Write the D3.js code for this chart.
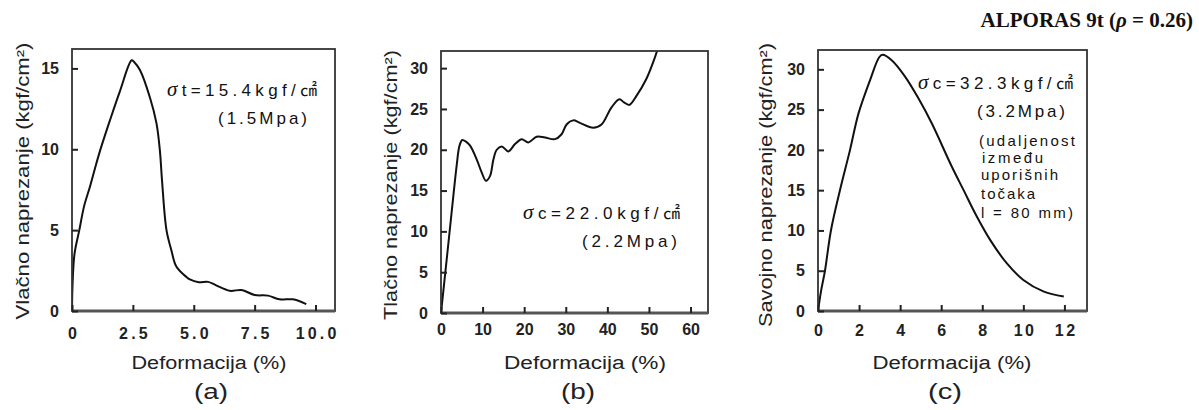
<!DOCTYPE html>
<html><head><meta charset="utf-8">
<script src="https://cdn.jsdelivr.net/npm/d3@7"></script>
<style>body{margin:0;background:#fff;} svg{display:block}</style>
</head><body><svg id="c" width="1199" height="410"></svg>
<script>
// ---------- data ----------
const tensileStrain = [0, 0.02, 0.1, 0.3, 0.5, 0.74, 0.94, 1.15, 1.56, 1.97, 2.45, 2.55, 2.79, 3.2, 3.47, 3.61, 3.7, 3.88, 4.08, 4.29, 4.7, 4.84, 5.2, 5.59, 5.9, 6.48, 6.96, 7.5, 8.05, 8.52, 9.07, 9.62];
const tensileStress = [0, 1.5, 3.5, 5.0, 6.5, 7.7, 8.8, 9.9, 11.8, 13.6, 15.5, 15.4, 14.9, 13.2, 11.6, 9.9, 8.0, 5.0, 3.76, 2.73, 2.1, 1.95, 1.78, 1.8, 1.6, 1.25, 1.3, 0.99, 0.95, 0.72, 0.72, 0.43];

const compStrain = [0, 1.5, 3.0, 3.8, 4.4, 5.1, 6.0, 7.0, 8.6, 9.8, 10.8, 11.8, 12.6, 13.4, 14.6, 16.2, 17.8, 19.4, 21.0, 23.0, 25.0, 27.4, 29.0, 30.2, 31.8, 33.4, 36.6, 38.6, 41.0, 42.9, 44.0, 45.3, 47.0, 49.4, 51.0, 52.0, 52.6];
const compStress = [0, 7.2, 14.5, 18.2, 20.4, 21.2, 21.0, 20.5, 18.8, 17.2, 16.2, 16.8, 18.8, 20.0, 20.4, 19.8, 20.7, 21.3, 20.9, 21.6, 21.5, 21.3, 21.9, 23.1, 23.6, 23.3, 22.7, 23.1, 25.2, 26.2, 25.8, 25.5, 26.6, 28.7, 30.7, 32.2, 33.5];

const bendStrain = [0, 0.15, 0.34, 0.63, 1.07, 1.56, 1.97, 2.54, 2.98, 3.14, 3.6, 4.24, 4.89, 5.54, 6.52, 7.09, 7.74, 8.39, 9.2, 10.0, 11.0, 11.97];
const bendStress = [0, 2.5, 5, 10, 15, 20, 24.5, 28.7, 31.5, 31.8, 31.1, 29.1, 26.4, 23.3, 17.9, 15.0, 11.7, 8.8, 5.9, 3.85, 2.4, 1.8];

const aXTicks = [0, 2.5, 5, 7.5, 10];
const aXTickLabels = ["0", "2.5", "5.0", "7.5", "10.0"];
const aYTicks = [0, 5, 10, 15];
const bXTicks = [0, 10, 20, 30, 40, 50, 60];
const bYTicks = [0, 5, 10, 15, 20, 25, 30];
const cXTicks = [0, 2, 4, 6, 8, 10, 12];
const cYTicks = [0, 5, 10, 15, 20, 25, 30];

const aDomainX = [0, 10.8], aDomainY = [0, 16.2];
const bDomainX = [0, 64.2], bDomainY = [0, 32.1];
const cDomainX = [0, 13.1], cDomainY = [0, 32.4];

const yTitles = ["Vlačno naprezanje (kgf/cm²)", "Tlačno naprezanje (kgf/cm²)", "Savojno naprezanje (kgf/cm²)"];
const xTitle = "Deformacija (%)";
const panelLabels = ["(a)", "(b)", "(c)"];
const title = "ALPORAS 9t";

// ---------- layout ----------
const svg = d3.select("#c");
const FONT = "'Liberation Sans', Arial, Helvetica, sans-serif";

const panels = [
  {x: tensileStrain, y: tensileStress, dx: aDomainX, dy: aDomainY, xt: aXTicks, xtl: aXTickLabels, yt: aYTicks,
   box: {l: 72, r: 335, t: 49, b: 311}, xPad: 17, xLS: 3.2, yTitleX: 29, yTitleY: 181, yTitleLen: 277,
   xTitleX: 209, xTitleLen: 155, labX: 211},
  {x: compStrain, y: compStress, dx: bDomainX, dy: bDomainY, xt: bXTicks, xtl: bXTicks.map(String), yt: bYTicks,
   box: {l: 441, r: 708, t: 51, b: 313}, xPad: 11, xLS: 0, yTitleX: 397, yTitleY: 185, yTitleLen: 270,
   xTitleX: 585, xTitleLen: 162, labX: 578},
  {x: bendStrain, y: bendStress, dx: cDomainX, dy: cDomainY, xt: cXTicks, xtl: cXTicks.map(String), yt: cYTicks,
   box: {l: 818, r: 1087, t: 50, b: 311}, xPad: 14, xLS: 2.5, yTitleX: 772, yTitleY: 185, yTitleLen: 284,
   xTitleX: 952, xTitleLen: 159, labX: 945}
];

panels.forEach((p, i) => {
  const b = p.box;
  const xs = d3.scaleLinear().domain(p.dx).range([b.l, b.r]);
  const ys = d3.scaleLinear().domain(p.dy).range([b.b, b.t]);
  const g = svg.append("g");

  const clipId = "clip" + i;
  svg.append("clipPath").attr("id", clipId).append("rect")
    .attr("x", b.l).attr("y", b.t).attr("width", b.r - b.l).attr("height", b.b - b.t);

  const line = d3.line().x((d, k) => xs(p.x[k])).y((d, k) => ys(p.y[k])).curve(d3.curveCatmullRom.alpha(0.5));
  g.append("path").datum(p.x).attr("d", line).attr("fill", "none").attr("stroke", "#111")
    .attr("stroke-width", 2).attr("stroke-linejoin", "round").attr("clip-path", `url(#${clipId})`);

  g.append("rect").attr("x", b.l).attr("y", b.t).attr("width", b.r - b.l).attr("height", b.b - b.t)
    .attr("fill", "none").attr("stroke", "#333").attr("stroke-width", 1.8);
  g.append("line").attr("x1", b.l).attr("x2", b.r).attr("y1", b.b).attr("y2", b.b)
    .attr("stroke", "#555").attr("stroke-width", 3);

  const xa = d3.axisBottom(xs).tickValues(p.xt).tickSize(-6).tickPadding(p.xPad)
    .tickFormat((d, k) => p.xtl[k]);
  const xg = g.append("g").attr("transform", `translate(0,${b.b})`).call(xa);
  xg.select(".domain").remove();
  xg.selectAll("line").attr("stroke", "#222").attr("stroke-width", 2);
  xg.selectAll("text").attr("font-family", FONT).attr("font-size", 16).attr("font-weight", "bold")
    .attr("fill", "#222").attr("letter-spacing", p.xLS).attr("dx", p.xLS / 2);

  const ya = d3.axisLeft(ys).tickValues(p.yt).tickSize(-6).tickPadding(13);
  const yg = g.append("g").attr("transform", `translate(${b.l},0)`).call(ya);
  yg.select(".domain").remove();
  yg.selectAll("line").attr("stroke", "#222").attr("stroke-width", 2);
  yg.selectAll("text").attr("font-family", FONT).attr("font-size", 16).attr("font-weight", "bold").attr("fill", "#222");

  g.append("text").attr("transform", `translate(${p.yTitleX},${p.yTitleY}) rotate(-90)`)
    .attr("text-anchor", "middle").attr("font-family", FONT).attr("font-size", 18).attr("fill", "#222")
    .attr("textLength", p.yTitleLen).attr("lengthAdjust", "spacingAndGlyphs").text(yTitles[i]);
  g.append("text").attr("x", p.xTitleX).attr("y", 369).attr("text-anchor", "middle")
    .attr("font-family", FONT).attr("font-size", 18).attr("fill", "#222")
    .attr("textLength", p.xTitleLen).attr("lengthAdjust", "spacingAndGlyphs").text(xTitle);
  g.append("text").attr("x", p.labX).attr("y", 399).attr("text-anchor", "middle")
    .attr("font-family", FONT).attr("font-size", 22).attr("fill", "#222")
    .attr("textLength", 34).attr("lengthAdjust", "spacingAndGlyphs").text(panelLabels[i]);
});

// annotations
const annFont = FONT + ", 'Noto Sans CJK JP'";
function sigmaText(x, y, sub, val, len) {
  const t = svg.append("text").attr("x", x).attr("y", y).attr("font-family", annFont)
    .attr("font-size", 17).attr("fill", "#111").attr("textLength", len).attr("lengthAdjust", "spacing");
  t.append("tspan").attr("font-family", "'Liberation Serif', serif").attr("font-style", "italic")
    .attr("font-size", 21).text("σ");
  t.append("tspan").text(sub + "=" + val + "kgf/");
  t.append("tspan").attr("font-family", "'Noto Sans CJK JP', sans-serif").text("㎠");
}
function plainText(x, y, s, len, size) {
  svg.append("text").attr("x", x).attr("y", y).attr("font-family", annFont)
    .attr("font-size", size || 17).attr("fill", "#111").attr("textLength", len).attr("lengthAdjust", "spacing").text(s);
}
sigmaText(167, 96, "t", "15.4", 150);
plainText(218, 124, "(1.5Mpa)", 89);
sigmaText(523, 219, "c", "22.0", 157);
plainText(582, 247, "(2.2Mpa)", 95);
sigmaText(918, 89, "c", "32.3", 155);
plainText(977, 117, "(3.2Mpa)", 88);
plainText(979, 146, "(udaljenost", 96, 15);
plainText(982, 163, "između", 61, 15);
plainText(981, 180, "uporišnih", 77, 15);
plainText(981, 199, "točaka", 54, 15);
plainText(981, 218, "l = 80 mm)", 92, 15);

// main title
const tt = svg.append("text").attr("x", 1193).attr("y", 27).attr("text-anchor", "end")
  .attr("font-family", "'Liberation Serif', 'Times New Roman', serif").attr("font-size", 21)
  .attr("font-weight", "bold").attr("fill", "#111");
tt.append("tspan").text(title + " (");
tt.append("tspan").attr("font-style", "italic").text("ρ");
tt.append("tspan").text(" = 0.26)");
</script>
</body></html>
